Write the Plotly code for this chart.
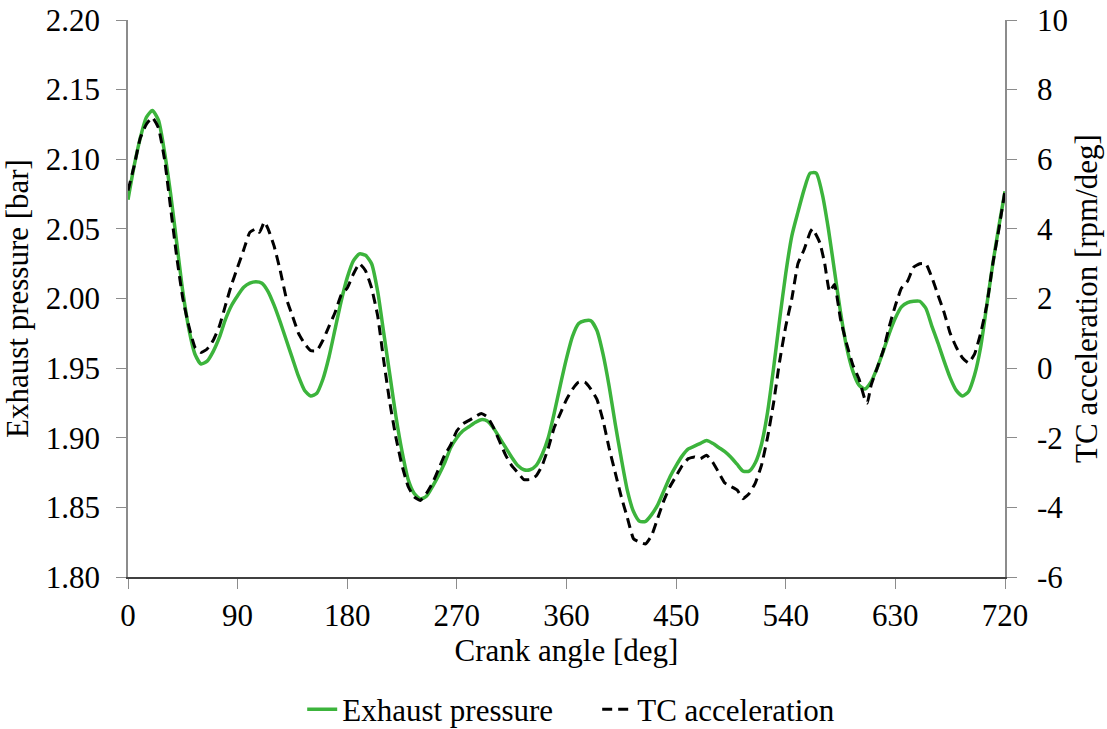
import plotly.graph_objects as go

deg_p = [0, 5, 10, 15, 20, 25, 30, 35, 40, 45, 50, 55, 60, 65, 70, 75, 80, 85, 90, 95,
         100, 105, 110, 115, 120, 125, 130, 135, 140, 145, 150, 155, 160, 165, 170, 175,
         180, 185, 190, 195, 200, 205, 210, 215, 220, 225, 230, 235, 240, 245, 250, 255,
         260, 265, 270, 275, 280, 285, 290, 295, 300, 305, 310, 315, 320, 325, 330, 335,
         340, 345, 350, 355, 360, 365, 370, 375, 380, 385, 390, 395, 400, 405, 410, 415,
         420, 425, 430, 435, 440, 445, 450, 455, 460, 465, 470, 475, 480, 485, 490, 495,
         500, 505, 510, 515, 520, 525, 530, 535, 540, 545, 550, 555, 560, 565, 570, 575,
         580, 585, 590, 595, 600, 605, 610, 615, 620, 625, 630, 635, 640, 645, 650, 655,
         660, 665, 670, 675, 680, 685, 690, 695, 700, 705, 710, 715, 720]
exhaust_pressure = [2.071, 2.095, 2.115, 2.130, 2.135, 2.128, 2.105, 2.075, 2.040, 2.005,
                    1.978, 1.960, 1.953, 1.955, 1.962, 1.972, 1.985, 1.995, 2.002, 2.008,
                    2.011, 2.012, 2.011, 2.005, 1.995, 1.983, 1.970, 1.957, 1.944, 1.934,
                    1.930, 1.932, 1.942, 1.958, 1.978, 1.998, 2.015, 2.027, 2.032, 2.031,
                    2.025, 2.005, 1.975, 1.945, 1.915, 1.890, 1.870, 1.860, 1.856, 1.858,
                    1.865, 1.873, 1.882, 1.893, 1.900, 1.905, 1.908, 1.911, 1.913, 1.912,
                    1.907, 1.900, 1.893, 1.886, 1.880, 1.877, 1.877, 1.880, 1.888, 1.900,
                    1.918, 1.938, 1.957, 1.973, 1.982, 1.984, 1.984, 1.977, 1.960, 1.937,
                    1.910, 1.885, 1.862, 1.847, 1.840, 1.840, 1.845, 1.852, 1.862, 1.872,
                    1.880, 1.887, 1.892, 1.894, 1.896, 1.898, 1.896, 1.893, 1.890, 1.886,
                    1.881, 1.876, 1.876, 1.882, 1.895, 1.918, 1.950, 1.985, 2.018, 2.045,
                    2.062, 2.078, 2.090, 2.090, 2.075, 2.050, 2.020, 1.990, 1.965, 1.948,
                    1.938, 1.935, 1.940, 1.950, 1.962, 1.975, 1.986, 1.994, 1.997, 1.998,
                    1.998, 1.993, 1.980, 1.968, 1.955, 1.943, 1.934, 1.930, 1.933, 1.945,
                    1.965, 1.995, 2.025, 2.052, 2.077]

deg_tc = [0, 5, 10, 15, 20, 25, 30, 35, 40, 45, 50, 55, 60, 65, 70, 75, 80, 85, 90, 95,
          100, 105, 108, 112, 115, 120, 125, 130, 135, 140, 145, 150, 155, 160, 165, 170,
          175, 180, 185, 190, 195, 200, 205, 210, 215, 220, 225, 230, 235, 240, 245, 250,
          255, 260, 265, 270, 275, 280, 285, 290, 295, 300, 305, 310, 315, 320, 325, 330,
          335, 340, 345, 350, 355, 360, 365, 370, 375, 380, 385, 390, 395, 400, 405, 410,
          415, 420, 425, 430, 435, 440, 445, 450, 455, 460, 465, 470, 475, 480, 485, 490,
          495, 500, 505, 510, 515, 520, 525, 530, 535, 540, 545, 550, 555, 560, 562, 568,
          572, 576, 580, 585, 590, 595, 600, 605, 607, 610, 615, 620, 625, 630, 635, 640,
          645, 650, 655, 660, 665, 670, 675, 680, 685, 690, 695, 700, 705, 710, 715, 720]
tc_acceleration = [5.1, 5.8, 6.6, 7.0, 7.2, 6.9, 6.0, 4.6, 3.2, 2.0, 1.2, 0.6, 0.45, 0.55,
                   0.8, 1.2, 1.8, 2.4, 2.9, 3.4, 3.9, 4.0, 3.9, 4.2, 4.0, 3.5, 2.8, 2.0,
                   1.5, 1.0, 0.7, 0.5, 0.5, 0.8, 1.2, 1.6, 2.1, 2.3, 2.7, 3.0, 2.8, 2.3,
                   1.5, 0.2, -1.0, -2.0, -2.8, -3.4, -3.7, -3.8, -3.6, -3.3, -2.9, -2.5,
                   -2.2, -1.8, -1.6, -1.5, -1.4, -1.3, -1.4, -1.7, -2.1, -2.5, -2.8, -3.0,
                   -3.2, -3.2, -3.1, -2.8, -2.3, -1.7, -1.3, -0.9, -0.6, -0.4, -0.4, -0.6,
                   -0.9, -1.5, -2.3, -3.0, -3.7, -4.3, -4.9, -5.0, -5.05, -4.8, -4.3, -3.8,
                   -3.4, -3.1, -2.8, -2.6, -2.55, -2.6, -2.5, -2.7, -3.0, -3.3, -3.4, -3.5,
                   -3.75, -3.6, -3.3, -2.8, -2.0, -1.0, 0.2, 1.2, 2.0, 3.0, 3.4, 3.9, 4.0,
                   3.6, 3.0, 2.2, 2.4, 1.4, 0.7, 0.1, -0.3, -0.9, -1.0, -0.5, 0.0, 0.5, 1.2,
                   1.8, 2.3, 2.5, 2.9, 3.0, 3.0, 2.6, 2.1, 1.6, 1.0, 0.6, 0.3, 0.15, 0.4,
                   1.0, 1.8, 3.0, 4.0, 5.1]

x_ticks = [0, 90, 180, 270, 360, 450, 540, 630, 720]
y2_ticks = [-6, -4, -2, 0, 2, 4, 6, 8, 10]
y2_ticktext = ["-6", "-4", "-2", "0", "2", "4", "6", "8", "10"]

FONT = "Liberation Serif"
TF = dict(family=FONT, size=31, color="black")

fig = go.Figure()
fig.add_trace(go.Scatter(
    x=deg_p, y=exhaust_pressure, name="Exhaust pressure", mode="lines",
    line=dict(color="#3cb43c", width=3.5, shape="spline", smoothing=0.6),
    yaxis="y"))
fig.add_trace(go.Scatter(
    x=deg_tc, y=tc_acceleration, name="TC acceleration", mode="lines",
    line=dict(color="black", width=3, dash="10px,6px", shape="spline", smoothing=0.4),
    yaxis="y2"))

fig.update_layout(
    width=1107, height=729,
    margin=dict(l=128, r=102, t=20, b=152, autoexpand=False),
    paper_bgcolor="white", plot_bgcolor="white",
    font=TF,
    showlegend=True,
    legend=dict(orientation="h", x=0.535, xanchor="center", y=-0.238, yanchor="middle",
                font=TF, tracegroupgap=0, bgcolor="rgba(0,0,0,0)",
                entrywidth=250, entrywidthmode="pixels"),
    xaxis=dict(range=[0, 720], tickvals=x_ticks, showgrid=False, zeroline=False,
               showline=True, linecolor="#404040", linewidth=1.5,
               ticks="outside", ticklen=10, tickcolor="#8c8c8c", tickfont=TF,
               ticklabelstandoff=0,
               title=dict(text="Crank angle [deg]", font=TF, standoff=6)),
    yaxis=dict(range=[1.80, 2.20], dtick=0.05, tickformat=".2f", showgrid=False,
               zeroline=False, showline=True, linecolor="#8c8c8c", linewidth=1.5,
               ticks="outside", ticklen=10, tickcolor="#8c8c8c", tickfont=TF,
               ticklabelstandoff=10,
               title=dict(text="Exhaust pressure [bar]", font=TF, standoff=10)),
    yaxis2=dict(range=[-6, 10], tickvals=y2_ticks, ticktext=y2_ticktext,
                overlaying="y", side="right", showgrid=False,
                zeroline=False, showline=True, linecolor="#8c8c8c", linewidth=1.5,
                ticks="outside", ticklen=10, tickcolor="#8c8c8c", tickfont=TF,
                ticklabelstandoff=14,
                title=dict(text="TC acceleration [rpm/deg]", font=TF, standoff=8)),
)

fig.write_html("out.html")
